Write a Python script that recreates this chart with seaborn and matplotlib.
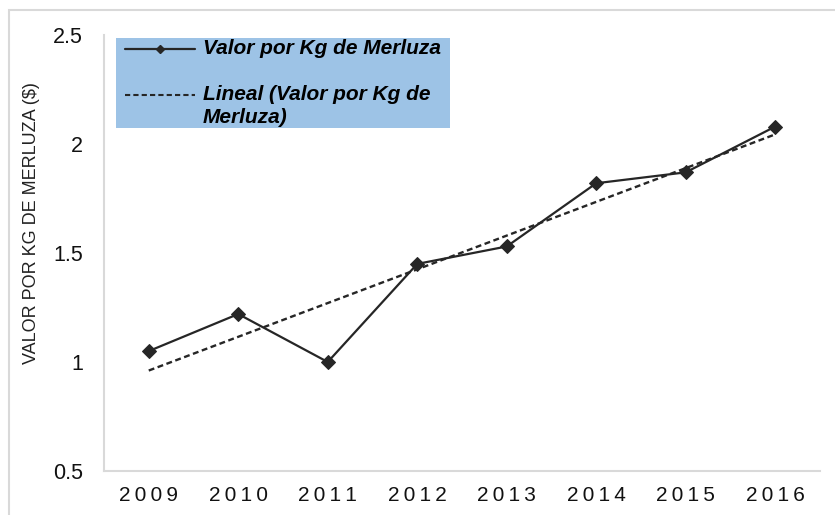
import numpy as np
import pandas as pd
import matplotlib
matplotlib.use("Agg")
import matplotlib.pyplot as plt
from matplotlib.patches import Rectangle
from matplotlib.lines import Line2D
import seaborn as sns

years = ["2009", "2010", "2011", "2012", "2013", "2014", "2015", "2016"]
valor = [1.05, 1.22, 1.00, 1.45, 1.53, 1.82, 1.87, 2.08]
y_ticks = [0.5, 1.0, 1.5, 2.0, 2.5]
y_tick_labels = ["0.5", "1", "1.5", "2", "2.5"]
series_label = "Valor por Kg de Merluza"
trend_label = "Lineal (Valor por Kg de\nMerluza)"
y_label = "VALOR POR KG DE MERLUZA ($)"

sns.set_theme(style="white")
plt.rcParams["font.family"] = ["Liberation Sans", "DejaVu Sans"]

W, H = 835, 515
df = pd.DataFrame({"year": years, "valor": valor})
df["idx"] = np.arange(len(years))
slope, intercept = np.polyfit(df["idx"], df["valor"], 1)
df["trend"] = intercept + slope * df["idx"]

fig = plt.figure(figsize=(W / 100, H / 100), dpi=100)
ax = fig.add_axes([104 / W, 44 / H, 716 / W, 436 / H])

line_col = "#262626"
dash = (0, (2.5, 1.5))
sns.lineplot(data=df, x="idx", y="trend", ax=ax, color=line_col, lw=1.7,
             linestyle=dash, legend=False)
sns.lineplot(data=df, x="idx", y="valor", ax=ax, color=line_col, lw=1.6,
             marker="D", markersize=7.5, markeredgecolor=line_col,
             legend=False)

ax.set_xlim(-0.5, len(years) - 0.5)
ax.set_ylim(0.5, 2.5)
ax.set_xticks(np.arange(len(years)))
ax.set_xticklabels(["\u2009".join(y) for y in years], fontsize=15,
                   color="#111111")
ax.set_yticks(y_ticks)
ax.set_yticklabels(y_tick_labels, fontsize=15.5, color="#111111")
ax.tick_params(axis="x", length=0, pad=11)
ax.tick_params(axis="y", length=0, pad=15)
ax.set_xlabel("")
ax.set_ylabel(y_label, fontsize=13, color="#222222")
ax.yaxis.set_label_coords((32 - 104) / 716, (471 - 223) / 436)
ax.yaxis.label.set_verticalalignment("center")

for s in ["top", "right"]:
    ax.spines[s].set_visible(False)
for s in ["left", "bottom"]:
    ax.spines[s].set_color("#D9D9D9")
    ax.spines[s].set_linewidth(1.5)

# legend drawn by hand (pixel layout of the reference)
def fx(px):
    return px / W

def fy(py):
    return 1 - py / H

fig.patches.append(Rectangle((fx(116), fy(128)), (450 - 116) / W, 90 / H,
                             transform=fig.transFigure, facecolor="#9DC3E6",
                             edgecolor="none", zorder=5))
fig.lines.append(Line2D([fx(125), fx(195)], [fy(49), fy(49)], color=line_col,
                        lw=1.6, transform=fig.transFigure, zorder=6))
fig.lines.append(Line2D([fx(160)], [fy(49)], color=line_col, marker="D",
                        markersize=4.5, transform=fig.transFigure, zorder=6))
fig.lines.append(Line2D([fx(125), fx(195)], [fy(95), fy(95)], color=line_col,
                        lw=1.5, linestyle=dash, transform=fig.transFigure,
                        zorder=6))
font = dict(size=15, weight="bold", style="italic", color="black")
fig.text(fx(203), fy(49), series_label, va="center", ha="left", zorder=7,
         **font)
for i, line in enumerate(trend_label.split("\n")):
    fig.text(fx(203), fy(95 + 23 * i), line, va="center", ha="left", zorder=7,
             **font)

fig.patches.append(Rectangle((9 / W, -0.2), 1.5, 1.2 - 10 / H,
                             transform=fig.transFigure, fill=False,
                             edgecolor="#D9D9D9", lw=1.5))

fig.savefig("out.png", dpi=100)
